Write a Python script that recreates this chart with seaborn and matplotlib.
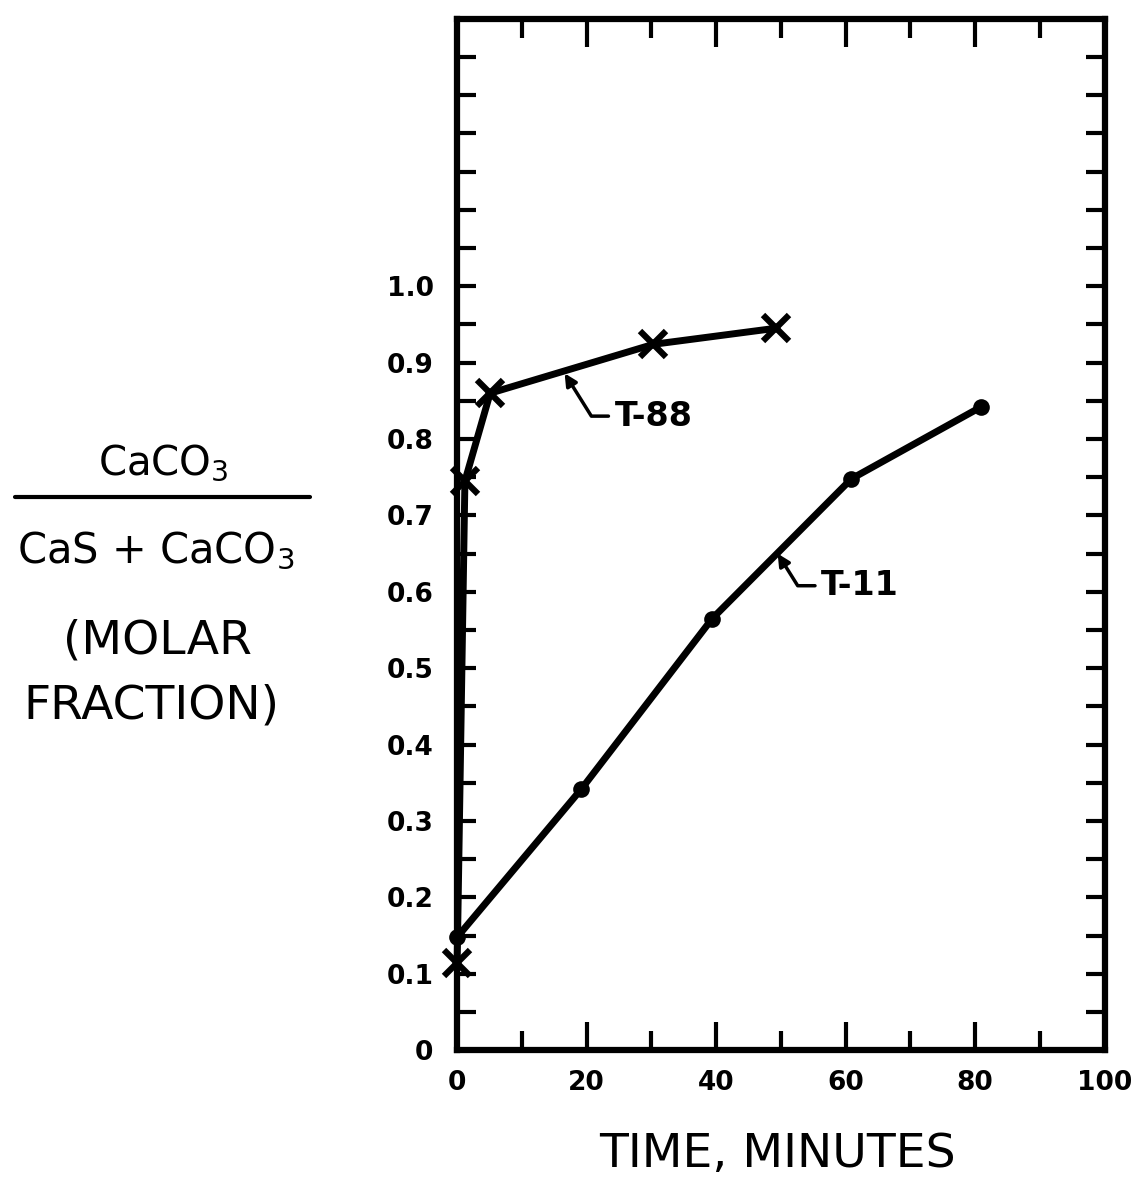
import matplotlib
matplotlib.use("Agg")
import matplotlib.pyplot as plt
import seaborn as sns
import pandas as pd
from matplotlib.ticker import MultipleLocator, FixedLocator

sns.set_theme(style="white")
plt.rcParams['font.family'] = ['DejaVu Sans']
plt.rcParams['mathtext.fontset'] = 'dejavusans'
plt.rcParams['text.color'] = 'black'

# Run T-88 (crosses) and run T-11 (dots)
t88_time = [0.0, 1.2, 5.1, 30.3, 49.2]
t88_frac = [0.114, 0.745, 0.860, 0.924, 0.945]
t11_time = [0.0, 19.2, 39.4, 60.9, 80.9]
t11_frac = [0.148, 0.342, 0.565, 0.748, 0.842]

x_ticks = [0, 20, 40, 60, 80, 100]
x_ticklabels = ["0", "20", "40", "60", "80", "100"]
y_ticks = [0.0, 0.1, 0.2, 0.3, 0.4, 0.5, 0.6, 0.7, 0.8, 0.9, 1.0]
y_ticklabels = ["0", "0.1", "0.2", "0.3", "0.4", "0.5", "0.6", "0.7", "0.8", "0.9", "1.0"]

df88 = pd.DataFrame({"time": t88_time, "frac": t88_frac})
df11 = pd.DataFrame({"time": t11_time, "frac": t11_frac})

fig = plt.figure(figsize=(11.4, 11.8), dpi=100)
ax = fig.add_axes([0.401, 0.110, 0.568, 0.874])

sns.lineplot(data=df88, x="time", y="frac", ax=ax, color="black", linewidth=5,
             marker="x", markersize=19, markeredgewidth=4.5, markeredgecolor="black",
             sort=False, estimator=None, clip_on=False, zorder=5)
sns.lineplot(data=df11, x="time", y="frac", ax=ax, color="black", linewidth=5,
             marker="o", markersize=12, markeredgewidth=0, markerfacecolor="black",
             sort=False, estimator=None, clip_on=False, zorder=5)

ax.set_xlim(0, 100)
ax.set_ylim(0, 1.35)

ax.xaxis.set_major_locator(FixedLocator(x_ticks))
ax.set_xticklabels(x_ticklabels)
ax.xaxis.set_minor_locator(MultipleLocator(10))
ax.yaxis.set_major_locator(FixedLocator(y_ticks))
ax.set_yticklabels(y_ticklabels)
ax.yaxis.set_minor_locator(MultipleLocator(0.05))

ax.tick_params(axis="x", which="major", direction="in", length=20, width=3,
               top=True, bottom=True, pad=14, labelsize=19, colors="black")
ax.tick_params(axis="x", which="minor", direction="in", length=14, width=3,
               top=True, bottom=True, colors="black")
ax.tick_params(axis="y", which="both", direction="in", length=14, width=3,
               left=True, right=True, pad=17, labelsize=19, colors="black")
for lab in ax.get_xticklabels() + ax.get_yticklabels():
    lab.set_fontweight("bold")

for s in ax.spines.values():
    s.set_visible(True)
    s.set_color("black")
    s.set_linewidth(4.5)

ax.set_xlabel("")
ax.set_ylabel("")

# Curve labels with leader arrows
arrow = dict(arrowstyle="-|>", color="black", lw=2.5, mutation_scale=18,
             shrinkA=2, shrinkB=0,
             connectionstyle="angle,angleA=0,angleB=-58,rad=0")
ax.annotate("T-88", xy=(16.6, 0.886), xytext=(24.3, 0.830),
            fontsize=24, fontweight="bold", ha="left", va="center",
            color="black", arrowprops=arrow)
ax.annotate("T-11", xy=(49.5, 0.650), xytext=(56.2, 0.608),
            fontsize=24, fontweight="bold", ha="left", va="center",
            color="black", arrowprops=arrow)

# Axis titles
fig.text(0.682, 0.011, "TIME, MINUTES", fontsize=34, ha="center", va="baseline")
fig.text(0.143, 0.608, r"CaCO$_3$", fontsize=29, ha="center", va="center")
fig.add_artist(plt.Line2D([0.013, 0.272], [0.579, 0.579], color="black", lw=3,
                          transform=fig.transFigure))
fig.text(0.137, 0.533, r"CaS + CaCO$_3$", fontsize=30, ha="center", va="center")
fig.text(0.138, 0.457, "(MOLAR", fontsize=34, ha="center", va="center")
fig.text(0.133, 0.402, "FRACTION)", fontsize=34, ha="center", va="center")

fig.savefig("out.png", dpi=100, facecolor="white")
